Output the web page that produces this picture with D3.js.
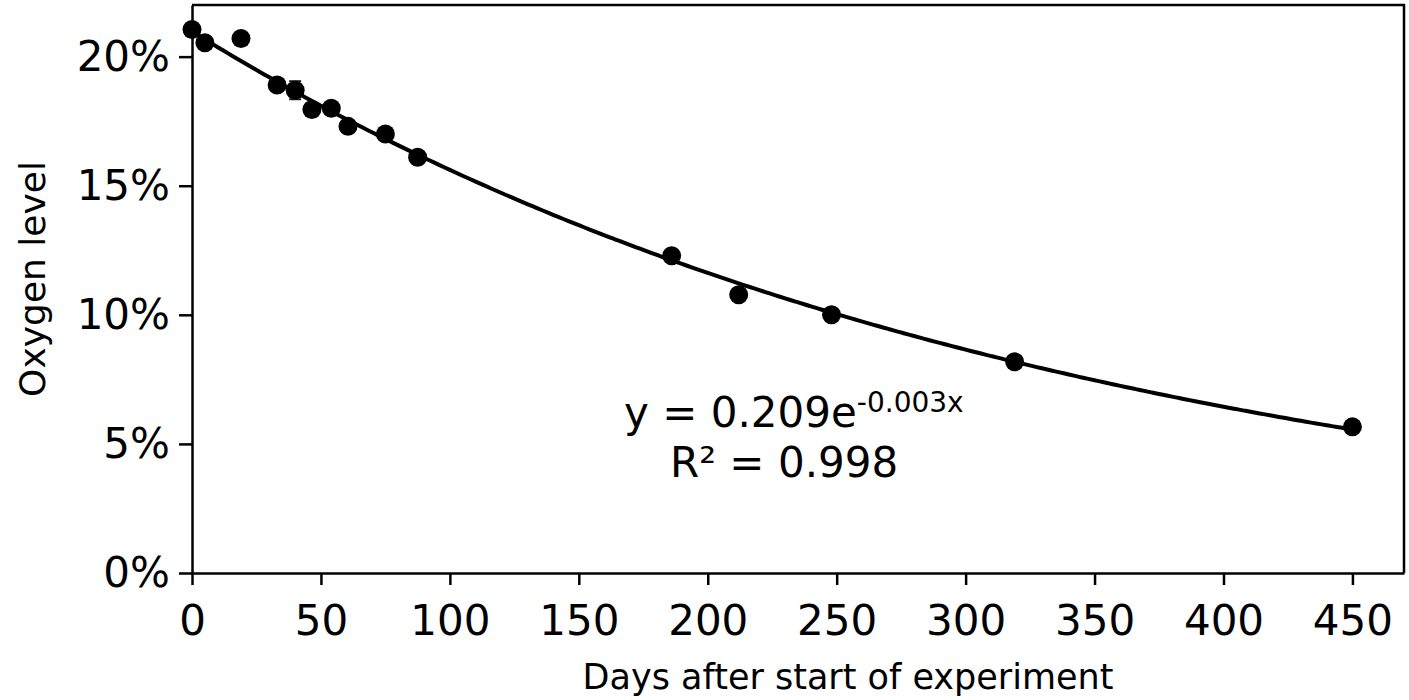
<!DOCTYPE html>
<html>
<head>
<meta charset="utf-8">
<script src="https://cdn.jsdelivr.net/npm/d3@7"></script>
<style>
  body { margin: 0; background: #fff; }
  svg text { font-family: "DejaVu Sans", Verdana, sans-serif; fill: #000; }
</style>
</head>
<body>
<div id="chart"></div>
<script>
// data
var days = [0, 5, 19, 33, 40, 46.5, 54, 60.5, 75, 87.5, 186, 212, 248, 319, 450];
var oxygen = [0.2105, 0.2054, 0.207, 0.189, 0.187, 0.1795, 0.180, 0.173, 0.170, 0.161, 0.1229, 0.1078, 0.100, 0.0818, 0.0566];
var errs = [0, 0, 0, 0, 0.0035, 0, 0, 0, 0, 0, 0, 0, 0, 0, 0];
var xTicks = [0, 50, 100, 150, 200, 250, 300, 350, 400, 450];
var yTicks = [0, 0.05, 0.10, 0.15, 0.20];

var width = 1409, height = 700;
var margin = {top: 5, right: 5, bottom: 127, left: 192};

var svg = d3.select("#chart").append("svg")
  .attr("width", width)
  .attr("height", height);

var x = d3.scaleLinear().domain([0, 470]).range([margin.left, width - margin.right]);
var y = d3.scaleLinear().domain([0, 0.22]).range([height - margin.bottom, margin.top]);

// frame (top + right)
svg.append("path")
  .attr("d", "M" + x(0) + "," + y(0.22) + "H" + x(470) + "V" + y(0))
  .attr("fill", "none")
  .attr("stroke", "#000")
  .attr("stroke-width", 2.5);

// x axis
var xAxis = svg.append("g")
  .attr("transform", "translate(0," + y(0) + ")")
  .call(d3.axisBottom(x).tickValues(xTicks).tickSize(12).tickSizeOuter(0).tickPadding(20));
xAxis.select(".domain").attr("stroke-width", 2.5);
xAxis.selectAll(".tick line").attr("stroke-width", 2.5);
xAxis.selectAll("text").style("font-size", "42px").attr("font-family", null);

// y axis
var yAxis = svg.append("g")
  .attr("transform", "translate(" + x(0) + ",0)")
  .call(d3.axisLeft(y).tickValues(yTicks).tickSize(13).tickSizeOuter(0).tickPadding(9).tickFormat(d3.format(".0%")));
yAxis.select(".domain").attr("stroke-width", 2.5);
yAxis.selectAll(".tick line").attr("stroke-width", 2.5);
yAxis.selectAll("text").style("font-size", "42px").attr("font-family", null);

// exponential fit like a spreadsheet trendline: ln(y) = ln(a) + b*x
var n = days.length;
var mx = d3.mean(days), ml = d3.mean(oxygen, function(v) { return Math.log(v); });
var sxy = 0, sxx = 0;
for (var i = 0; i < n; i++) {
  sxy += (days[i] - mx) * (Math.log(oxygen[i]) - ml);
  sxx += (days[i] - mx) * (days[i] - mx);
}
var b = sxy / sxx;
var a = Math.exp(ml - b * mx);

var fitX = d3.range(0, 451, 2);
var line = d3.line()
  .x(function(d) { return x(d); })
  .y(function(d) { return y(a * Math.exp(b * d)); })
  .curve(d3.curveMonotoneX);

svg.append("path")
  .datum(fitX)
  .attr("d", line)
  .attr("fill", "none")
  .attr("stroke", "#000")
  .attr("stroke-width", 4);

// error bars
var pts = days.map(function(d, i) { return {x: d, y: oxygen[i], e: errs[i]}; });
var eb = svg.append("g").selectAll("g")
  .data(pts.filter(function(d) { return d.e > 0; }))
  .enter().append("g")
  .attr("stroke", "#222")
  .attr("stroke-width", 2);
eb.append("line")
  .attr("x1", function(d) { return x(d.x); }).attr("x2", function(d) { return x(d.x); })
  .attr("y1", function(d) { return y(d.y - d.e); }).attr("y2", function(d) { return y(d.y + d.e); });
eb.append("line")
  .attr("x1", function(d) { return x(d.x) - 6; }).attr("x2", function(d) { return x(d.x) + 6; })
  .attr("y1", function(d) { return y(d.y + d.e); }).attr("y2", function(d) { return y(d.y + d.e); });
eb.append("line")
  .attr("x1", function(d) { return x(d.x) - 6; }).attr("x2", function(d) { return x(d.x) + 6; })
  .attr("y1", function(d) { return y(d.y - d.e); }).attr("y2", function(d) { return y(d.y - d.e); });

// points
svg.append("g").selectAll("circle")
  .data(pts)
  .enter().append("circle")
  .attr("cx", function(d) { return x(d.x); })
  .attr("cy", function(d) { return y(d.y); })
  .attr("r", 9.5)
  .attr("fill", "#000");

// equation
var eq = svg.append("text")
  .attr("x", 624)
  .attr("y", 427)
  .style("font-size", "42px");
eq.append("tspan").text("y = 0.209e");
eq.append("tspan").attr("dy", -15).style("font-size", "28px").text("-0.003x");

svg.append("text")
  .attr("x", 670)
  .attr("y", 477)
  .style("font-size", "42px")
  .text("R² = 0.998");

// axis titles
svg.append("text")
  .attr("x", 848)
  .attr("y", 689)
  .attr("text-anchor", "middle")
  .style("font-size", "35px")
  .text("Days after start of experiment");

svg.append("text")
  .attr("transform", "translate(45,279) rotate(-90)")
  .attr("text-anchor", "middle")
  .style("font-size", "36px")
  .text("Oxygen level");
</script>
</body>
</html>
